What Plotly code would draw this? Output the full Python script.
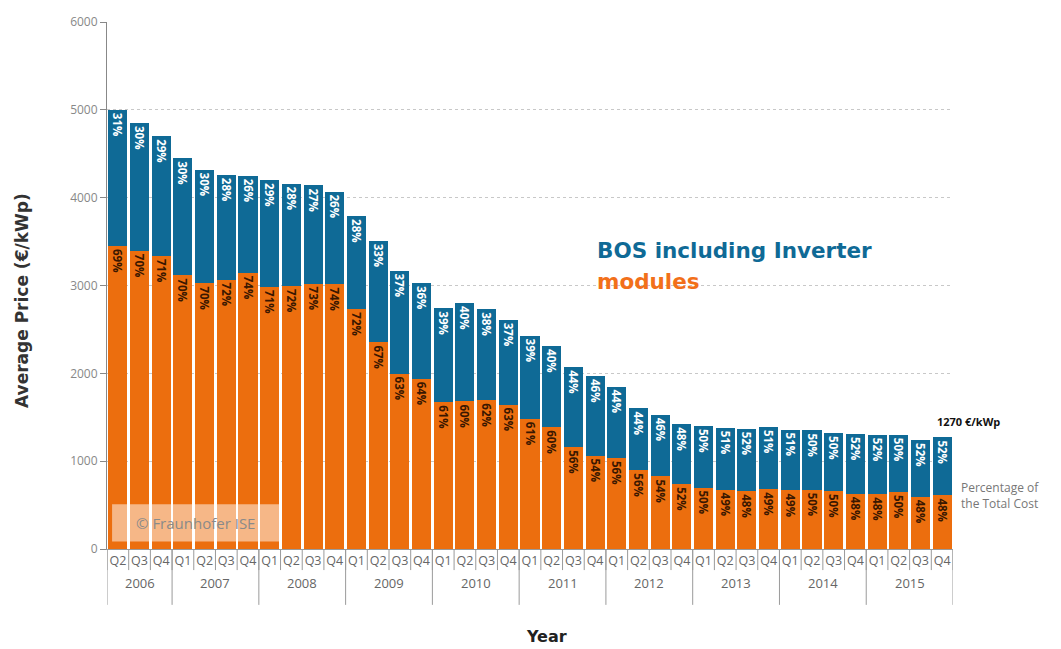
import plotly.graph_objects as go

# Quarterly average price of rooftop PV systems (€/kWp), split into modules and BOS
years = ["2006"] * 3 + [str(y) for y in range(2007, 2016) for _ in range(4)]
quarters = ["Q2", "Q3", "Q4"] + ["Q1", "Q2", "Q3", "Q4"] * 9

total_price = [
    5000, 4850, 4700,
    4450, 4320, 4260, 4250,
    4200, 4160, 4140, 4070,
    3790, 3510, 3170, 3030,
    2740, 2800, 2730, 2610,
    2430, 2310, 2070, 1970,
    1850, 1600, 1530, 1420,
    1400, 1380, 1370, 1390,
    1360, 1350, 1320, 1310,
    1300, 1300, 1240, 1270,
]
bos_pct = [
    31, 30, 29,
    30, 30, 28, 26,
    29, 28, 27, 26,
    28, 33, 37, 36,
    39, 40, 38, 37,
    39, 40, 44, 46,
    44, 44, 46, 48,
    50, 51, 52, 51,
    51, 50, 50, 52,
    52, 50, 52, 52,
]
module_pct = [
    69, 70, 71,
    70, 70, 72, 74,
    71, 72, 73, 74,
    72, 67, 63, 64,
    61, 60, 62, 63,
    61, 60, 56, 54,
    56, 56, 54, 52,
    50, 49, 48, 49,
    49, 50, 50, 48,
    48, 50, 48, 48,
]

modules_val = [t * p / 100 for t, p in zip(total_price, module_pct)]
bos_val = [t * p / 100 for t, p in zip(total_price, bos_pct)]

BLUE = "#0f6a96"
ORANGE = "#ec6e0e"
AXIS_GREY = "#9a9a9a"

# one unique category per quarter, labelled with the quarter only
cats = [f"{y} {q}" for y, q in zip(years, quarters)]

fig = go.Figure()
fig.add_trace(go.Bar(
    x=cats, y=modules_val, name="modules",
    marker=dict(color=ORANGE, line=dict(width=0)),
    text=[f"{p}%" for p in module_pct],
    textposition="inside", insidetextanchor="end", textangle=90,
    textfont=dict(family="Open Sans", size=11.5, color="#3a1700", weight="bold"),
    constraintext="none",
))
fig.add_trace(go.Bar(
    x=cats, y=bos_val, name="BOS including Inverter",
    marker=dict(color=BLUE, line=dict(width=0)),
    text=[f"{p}%" for p in bos_pct],
    textposition="inside", insidetextanchor="end", textangle=90,
    textfont=dict(family="Open Sans", size=11.5, color="white", weight="bold"),
    constraintext="none",
))

fig.update_layout(
    barmode="stack",
    bargap=0.12,
    width=1061, height=649,
    margin=dict(l=107, r=108, t=22, b=100),
    paper_bgcolor="white", plot_bgcolor="white",
    showlegend=False,
    font=dict(family="Open Sans", color="#555"),
    uniformtext=dict(minsize=11, mode="show"),
)

fig.update_yaxes(
    range=[0, 6000], dtick=1000,
    showgrid=True, gridcolor="#c8c8c8", griddash="dot", gridwidth=1,
    showline=True, linecolor="#888", linewidth=1,
    ticks="outside", ticklen=6, tickcolor="#888",
    tickfont=dict(size=12, color="#888"),
    zeroline=False,
)
fig.update_xaxes(
    type="category",
    categoryorder="array", categoryarray=cats,
    tickvals=cats, ticktext=quarters, tickangle=0,
    range=[-0.5, len(cats) - 0.5],
    showline=True, linecolor=AXIS_GREY, linewidth=1,
    ticks="", showgrid=False,
    tickfont=dict(size=12.5, color="#666"),
)

# quarter separators below the axis
for i in range(len(cats) + 1):
    fig.add_shape(type="line", xref="x", yref="paper", x0=i - 0.5, x1=i - 0.5,
                  y0=0, y1=-0.04, line=dict(color=AXIS_GREY, width=1))

# year separators and year labels
year_list = list(dict.fromkeys(years))
for yr in year_list:
    idx = [i for i, y in enumerate(years) if y == yr]
    first, last = idx[0], idx[-1]
    fig.add_annotation(xref="x", yref="paper", x=(first + last) / 2, y=-0.0645,
                       xanchor="center", yanchor="middle",
                       text=yr, showarrow=False,
                       font=dict(family="Open Sans", size=13, color="#666"))
    fig.add_shape(type="line", xref="x", yref="paper", x0=first - 0.5, x1=first - 0.5,
                  y0=0, y1=-0.106, line=dict(color=AXIS_GREY, width=1))
fig.add_shape(type="line", xref="x", yref="paper", x0=len(cats) - 0.5, x1=len(cats) - 0.5,
              y0=0, y1=-0.106, line=dict(color=AXIS_GREY, width=1))

# watermark box
fig.add_shape(type="rect", xref="paper", yref="y", x0=0.006, x1=0.2045, y0=85, y1=510,
              fillcolor="rgba(255,255,255,0.5)", line=dict(width=0), layer="above")
fig.add_annotation(xref="paper", yref="y", x=0.105, y=300, xanchor="center", yanchor="middle",
                   text="© Fraunhofer ISE", showarrow=False,
                   font=dict(family="Open Sans", size=15, color="#8a8a8a"))

# series labels
fig.add_annotation(xref="paper", yref="y", x=0.577, y=3404, xanchor="left", yanchor="middle",
                   text="<b>BOS including Inverter</b>", showarrow=False,
                   font=dict(family="DejaVu Sans", size=21.5, color=BLUE))
fig.add_annotation(xref="paper", yref="y", x=0.577, y=3040, xanchor="left", yanchor="middle",
                   text="<b>modules</b>", showarrow=False,
                   font=dict(family="DejaVu Sans", size=21.5, color="#f2701a"))

# end value and percentage note
fig.add_annotation(xref="paper", yref="y", x=0.979, y=1457, xanchor="left", yanchor="middle",
                   text=f"<b>{total_price[-1]} €/kWp</b>", showarrow=False,
                   font=dict(family="Open Sans", size=11, color="#111"))
fig.add_annotation(xref="paper", yref="y", x=1.007, y=610, xanchor="left", yanchor="middle",
                   align="left",
                   text="Percentage of<br>the Total Cost", showarrow=False,
                   font=dict(family="Open Sans", size=12, color="#777"))

# axis titles
fig.add_annotation(xref="paper", yref="paper", x=-0.1005, y=0.4725, textangle=-90,
                   xanchor="center", yanchor="middle",
                   text="<b>Average Price (€/kWp)</b>", showarrow=False,
                   font=dict(family="DejaVu Sans", size=17, color="#333"))
fig.add_annotation(xref="paper", yref="paper", x=0.52, y=-0.166,
                   xanchor="center", yanchor="middle",
                   text="<b>Year</b>", showarrow=False,
                   font=dict(family="DejaVu Sans", size=16, color="#222"))

fig.write_html("out.html")
